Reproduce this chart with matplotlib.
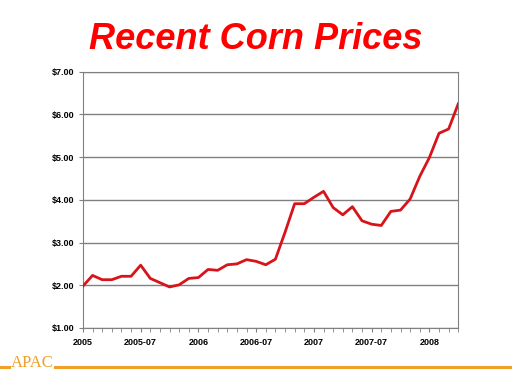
import matplotlib.pyplot as plt
from matplotlib.ticker import FixedLocator, FuncFormatter

# monthly corn prices, Jan 2005 .. Apr 2008
prices = [
    1.98, 2.23, 2.13, 2.13, 2.21, 2.21, 2.47, 2.16, 2.06, 1.96,
    2.01, 2.16, 2.18, 2.37, 2.35, 2.48, 2.50, 2.60, 2.56, 2.48,
    2.61, 3.24, 3.91, 3.91, 4.06, 4.20, 3.82, 3.65, 3.84, 3.51,
    3.43, 3.40, 3.73, 3.76, 4.02, 4.55, 4.99, 5.56, 5.66, 6.25,
]
x_labels = ["2005", "2005-07", "2006", "2006-07", "2007", "2007-07", "2008"]
y_ticks = [1, 2, 3, 4, 5, 6, 7]

fig = plt.figure(figsize=(5.12, 3.84), dpi=100)
ax = fig.add_axes([0.162, 0.146, 0.733, 0.667])

months = list(range(len(prices)))
ax.plot(months, prices, color="#d7141a", linewidth=2.0, zorder=3)

ax.set_xlim(0, len(prices) - 1)
ax.set_ylim(1, 7)
ax.set_yticks(y_ticks)
ax.yaxis.set_major_formatter(FuncFormatter(lambda v, p: f"${v:.2f}"))
ax.grid(axis="y", color="#808080", linewidth=1)

ax.set_xticks(list(range(0, len(prices), 6)))
ax.set_xticklabels(x_labels)
ax.xaxis.set_minor_locator(FixedLocator(months))
ax.tick_params(axis="x", which="both", direction="out", length=3, color="#808080", pad=4)
ax.tick_params(axis="y", direction="out", length=3, color="#808080", pad=3)
for lab in ax.get_xticklabels() + ax.get_yticklabels():
    lab.set_fontsize(6.5)
    lab.set_fontweight("bold")
    lab.set_family("Liberation Sans")
for s in ax.spines.values():
    s.set_color("#808080")

fig.text(0.5, 0.898, "Recent Corn Prices", ha="center", va="center",
         color="#ff0000", fontsize=26, fontweight="bold", fontstyle="italic",
         family="Liberation Sans")

# footer rule and logo
fig.add_artist(plt.Line2D([0, 1], [0.044, 0.044], color="#f0a028", linewidth=2.2))
fig.text(0.063, 0.054, "APAC", ha="center", va="center", color="#f0a028",
         fontsize=12, family="Liberation Serif",
         bbox=dict(facecolor="white", edgecolor="none", pad=0.3))

fig.savefig("out.png", dpi=100)
